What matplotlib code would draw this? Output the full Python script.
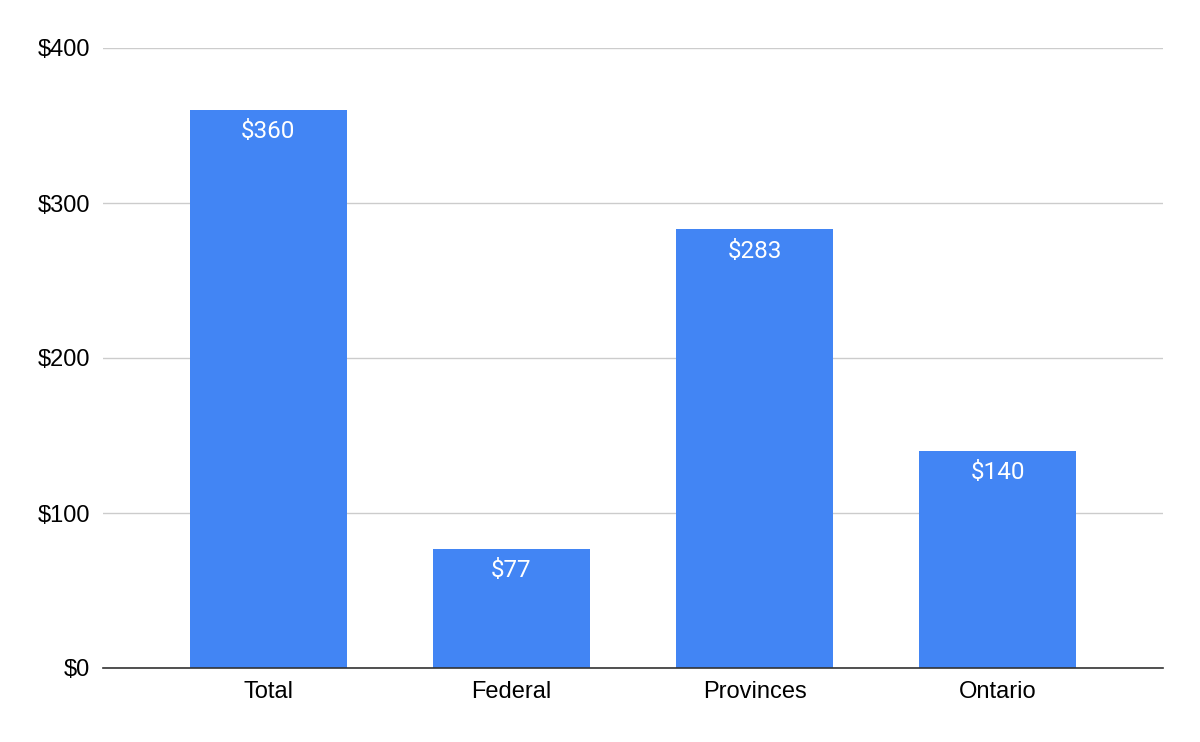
import matplotlib
matplotlib.use("Agg")
import matplotlib.pyplot as plt
from matplotlib.ticker import FuncFormatter

categories = ["Total", "Federal", "Provinces", "Ontario"]
values = [360, 77, 283, 140]
yticks = [0, 100, 200, 300, 400]

plt.rcParams['font.family'] = ['Liberation Sans', 'DejaVu Sans']

fig = plt.figure(figsize=(12, 7.42), dpi=100)
ax = fig.add_axes([103/1200, 74/742, 1060/1200, 620/742])

x = list(range(len(categories)))
bars = ax.bar(x, values, width=0.645, color="#4285F4", zorder=3)
for xi, v in zip(x, values):
    ax.annotate(f"${v}", xy=(xi, v), xytext=(0, -7.5), textcoords="offset points",
                ha="center", va="top", color="white", fontsize=17.5,
                family=["Roboto", "DejaVu Sans"])

ax.set_xlim(-0.68, 3.68)
ax.set_ylim(0, 400)
ax.set_yticks(yticks)
ax.yaxis.set_major_formatter(FuncFormatter(lambda v, p: f"${int(v)}"))
ax.set_xticks(x)
ax.set_xticklabels(categories)
ax.tick_params(axis="both", length=0, labelsize=17, colors="#000000")
ax.tick_params(axis="y", pad=9.5)
ax.tick_params(axis="x", pad=9)
ax.grid(axis="y", color="#cccccc", linewidth=1, zorder=0)
for s in ["top", "right", "left"]:
    ax.spines[s].set_visible(False)
ax.spines["bottom"].set_color("#333333")
ax.spines["bottom"].set_linewidth(1.2)
ax.spines["bottom"].set_zorder(4)

fig.savefig("out.png", dpi=100)
